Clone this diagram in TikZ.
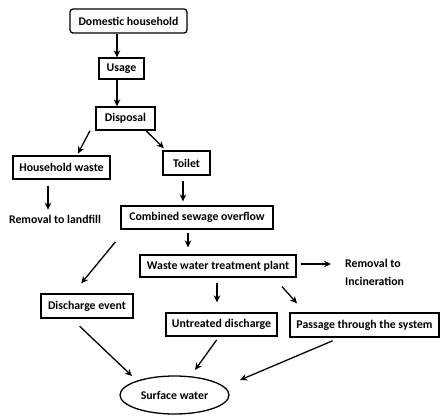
\documentclass[tikz,border=0pt]{standalone}
\usepackage{fontspec}
\setmainfont{Carlito}
\usetikzlibrary{arrows.meta,shapes.geometric}
\begin{document}
\begin{tikzpicture}[x=1pt,y=-1pt,
  txt/.style={font=\bfseries\fontsize{11.8}{14}\selectfont, inner sep=0pt},
  box/.style={txt, draw, line width=1.3pt, anchor=center},
  arr/.style={-{Stealth[length=7pt,width=6.5pt]}, line width=1.3pt}]
\useasboundingbox[fill=white] (0,0) rectangle (440,416);
% nodes
\node[box, rounded corners=3pt, minimum width=117pt, minimum height=24pt] (dom) at (128.5,21) {Domestic household};
\node[box, minimum width=45pt, minimum height=21pt] (usage) at (121.5,68.5) {Usage};
\node[box, minimum width=59pt, minimum height=23pt] (disp) at (125.5,118.5) {Disposal};
\node[box, minimum width=97pt, minimum height=23pt] (hw) at (61.5,167.5) {Household waste};
\node[box, minimum width=47pt, minimum height=24pt] (toilet) at (186.5,163) {Toilet};
\node[txt] (landfill) at (55,219) {Removal to landfill};
\node[box, minimum width=152pt, minimum height=23pt] (cso) at (197,217.5) {Combined sewage overflow};
\node[box, minimum width=156pt, minimum height=22pt] (wwtp) at (218,266) {Waste water treatment plant};
\node[txt, align=left, anchor=west, font=\bfseries\fontsize{11.8}{18}\selectfont] (inc) at (345,272) {Removal to\\Incineration};
\node[box, minimum width=92pt, minimum height=24pt] (disch) at (87,306) {Discharge event};
\node[box, minimum width=111pt, minimum height=23pt] (untr) at (221.5,324.5) {Untreated discharge};
\node[box, minimum width=149pt, minimum height=24pt] (pass) at (364.5,325) {Passage through the system};
\node[txt, draw, ellipse, line width=1.3pt, minimum width=109pt, minimum height=38pt] (surf) at (174.5,395) {Surface water};
% free ends
\coordinate (s1) at (132,376);
\coordinate (s2) at (195,370);
\coordinate (s3) at (240,380);
% connectors
\draw[arr] (dom.south -| 117,0) -- (usage.north -| 117,0);
\draw[arr] (usage.south -| 117,0) -- (disp.north -| 117,0);
\draw[arr, shorten >=2pt] (disp.south -| 90,0) -- (hw.north -| 77,0);
\draw[arr, shorten >=3pt] (disp.south -| 146,0) -- (toilet.north -| 166,0);
\draw[arr, shorten <=6pt, shorten >=5pt] (hw.south -| 48,0) -- (landfill.north -| 48,0);
\draw[arr, shorten <=5pt, shorten >=4pt] (toilet.south -| 183,0) -- (cso.north -| 183,0);
\draw[arr, shorten <=3pt, shorten >=7pt] (cso.south -| 188,0) -- (wwtp.north -| 188,0);
\draw[arr, shorten <=16pt, shorten >=13pt] (cso.south -| 125.5,0) -- (disch.north -| 73,0);
\draw[arr, shorten <=4pt, shorten >=14pt] (wwtp.east |- 0,264) -- (inc.west |- 0,264);
\draw[arr, shorten <=5pt, shorten >=10pt] (wwtp.south -| 217,0) -- (untr.north -| 217,0);
\draw[arr, shorten <=12pt, shorten >=12pt] (wwtp.south -| 274,0) -- (pass.north -| 305,0);
\draw[arr, shorten <=11pt] (disch.south -| 71.7,0) -- (s1);
\draw[arr, shorten <=4pt] (untr.south -| 219,0) -- (s2);
\draw[arr, shorten <=8pt] (pass.south -| 340,0) -- (s3);
\end{tikzpicture}
\end{document}
